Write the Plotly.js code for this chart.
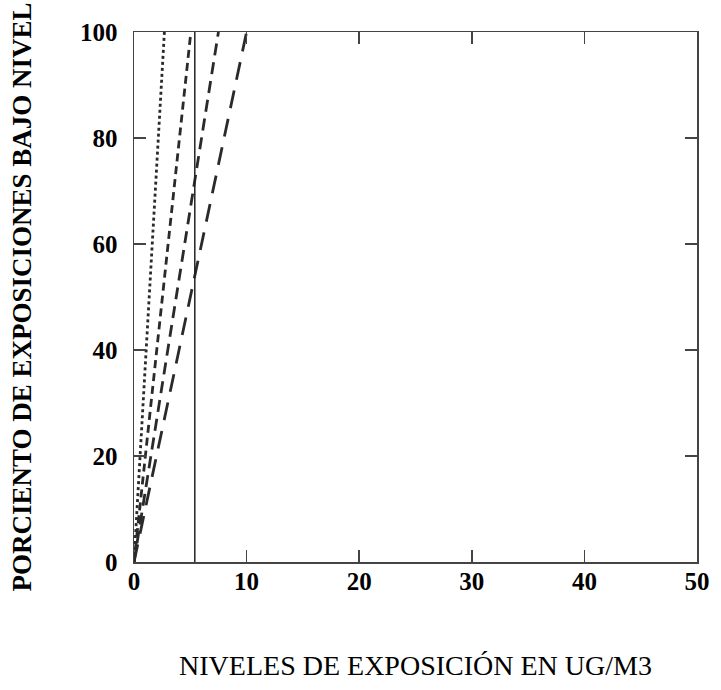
<!DOCTYPE html>
<html>
<head>
<meta charset="utf-8">
<script src="https://cdn.plot.ly/plotly-3.0.1.min.js"></script>
<style>html,body{margin:0;padding:0;background:#fff;}#chart{width:721px;height:690px;}</style>
</head>
<body>
<div id="chart"></div>
<script>
// Series: straight cumulative lines from the origin (x = exposure level, y = percent)
var seriesNames = ["Serie 1", "Serie 2", "Serie 3", "Serie 4"];
var seriesX = [[0, 2.7], [0, 5.05], [0, 7.5], [0, 10.0]];
var seriesY = [[0, 100], [0, 100], [0, 100], [0, 100]];
// Reference level (vertical line)
var refX = [5.4, 5.4];
var refY = [0, 100];
// Axis ticks
var xTicks = [0, 10, 20, 30, 40, 50];
var yTicks = [0, 20, 40, 60, 80, 100];
var xTitle = "NIVELES DE EXPOSICIÓN EN UG/M3";
var yTitle = "PORCIENTO DE EXPOSICIONES BAJO NIVEL";

var dashes = ["3px,3px", "8px,5px", "12px,7px", "18px,11px"];
var traces = seriesNames.map(function (n, i) {
  return {
    type: "scatter", mode: "lines", name: n,
    x: seriesX[i], y: seriesY[i],
    line: { color: "#2a2a2a", width: 2.8, dash: dashes[i] },
    hoverinfo: "skip"
  };
});
traces.push({
  type: "scatter", mode: "lines", name: "ref",
  x: refX, y: refY,
  line: { color: "#222", width: 1.5 }, hoverinfo: "skip"
});

var tickFont = { family: "Liberation Serif", size: 25, color: "#000", weight: "bold" };
var layout = {
  width: 721, height: 690,
  margin: { l: 134, r: 24, t: 32, b: 128 },
  paper_bgcolor: "#fff", plot_bgcolor: "#fff",
  showlegend: false,
  xaxis: {
    range: [0, 50], tickvals: xTicks, ticktext: xTicks.map(String),
    showgrid: false, zeroline: false,
    showline: true, linecolor: "#444", linewidth: 1.5, mirror: "ticks",
    ticks: "inside", ticklen: 12, tickcolor: "#444", tickwidth: 1.5,
    tickfont: tickFont, ticklabelstandoff: -4,
    title: { text: xTitle, font: { family: "Liberation Serif", size: 28, color: "#000" }, standoff: 62 }
  },
  yaxis: {
    range: [0, 100], tickvals: yTicks, ticktext: yTicks.map(String),
    showgrid: false, zeroline: false,
    showline: true, linecolor: "#444", linewidth: 1.5, mirror: "ticks",
    ticks: "inside", ticklen: 12, tickcolor: "#444", tickwidth: 1.5,
    tickfont: tickFont, ticklabelstandoff: 10,
    title: { text: yTitle, font: { family: "Liberation Serif", size: 27, color: "#000", weight: "bold" }, standoff: 40 }
  }
};
Plotly.newPlot("chart", traces, layout, { staticPlot: true, displayModeBar: false });
</script>
</body>
</html>
